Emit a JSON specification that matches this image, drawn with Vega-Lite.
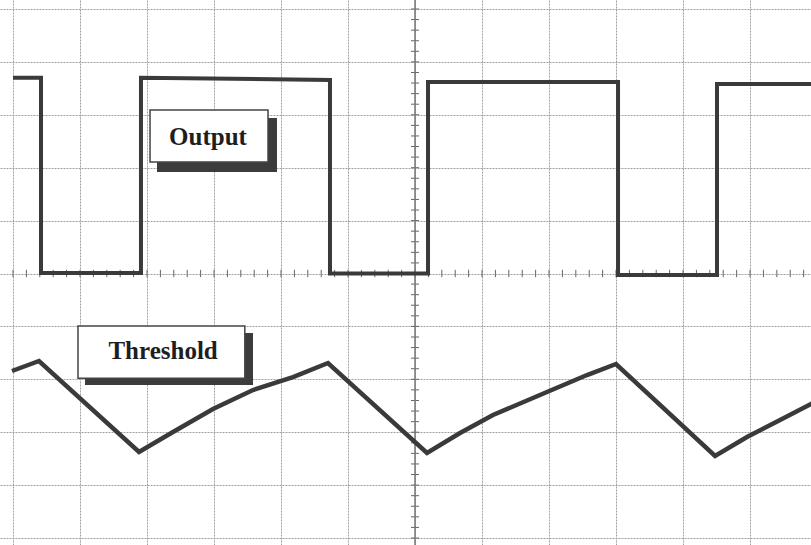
{
  "$schema": "https://vega.github.io/schema/vega-lite/v6.json",
  "width": 811,
  "height": 545,
  "autosize": {"type": "fit", "contains": "padding"},
  "padding": 0,
  "background": "white",
  "config": {
    "view": {"stroke": null},
    "axis": {"minExtent": 0, "maxExtent": 0, "labels": false, "ticks": false, "domain": false, "grid": true, "gridColor": "#a0a0a0", "gridDash": [2, 1], "gridWidth": 1, "gridOpacity": 1}
  },
  "datasets": {
    "output": [
      {"i": 0, "x": 0, "y": 8.70}, {"i": 1, "x": 0.418, "y": 8.70}, {"i": 2, "x": 0.418, "y": 5.01},
      {"i": 3, "x": 1.91, "y": 5.01}, {"i": 4, "x": 1.91, "y": 8.70}, {"i": 5, "x": 4.731, "y": 8.66},
      {"i": 6, "x": 4.731, "y": 5.0}, {"i": 7, "x": 6.194, "y": 5.0}, {"i": 8, "x": 6.194, "y": 8.62},
      {"i": 9, "x": 9.03, "y": 8.62}, {"i": 10, "x": 9.03, "y": 4.97}, {"i": 11, "x": 10.507, "y": 4.97},
      {"i": 12, "x": 10.507, "y": 8.58}, {"i": 13, "x": 11.95, "y": 8.58}
    ],
    "threshold": [
      {"i": 0, "x": -0.015, "y": 3.157}, {"i": 1, "x": 0.388, "y": 3.346},
      {"i": 4, "x": 1.881, "y": 1.626}, {"i": 5, "x": 2.388, "y": 2.004},
      {"i": 6, "x": 2.985, "y": 2.439}, {"i": 7, "x": 3.582, "y": 2.798}, {"i": 8, "x": 4.179, "y": 3.043},
      {"i": 9, "x": 4.701, "y": 3.308},
      {"i": 12, "x": 6.179, "y": 1.607}, {"i": 13, "x": 6.672, "y": 1.985}, {"i": 14, "x": 7.164, "y": 2.325},
      {"i": 15, "x": 7.97, "y": 2.76}, {"i": 16, "x": 8.567, "y": 3.081}, {"i": 17, "x": 9.0, "y": 3.289},
      {"i": 20, "x": 10.478, "y": 1.55},
      {"i": 21, "x": 10.955, "y": 1.909}, {"i": 22, "x": 11.448, "y": 2.231}, {"i": 23, "x": 11.95, "y": 2.56}
    ],
    "labels": [
      {"label": "Output", "bx": 2.045, "bx2": 3.806, "by": 8.09, "by2": 7.11, "sx": 2.149, "sx2": 3.94, "sy": 7.94, "sy2": 6.92, "tx": 2.91, "ty": 7.58},
      {"label": "Threshold", "bx": 0.97, "bx2": 3.46, "by": 4.01, "by2": 3.02, "sx": 1.075, "sx2": 3.582, "sy": 3.875, "sy2": 2.892, "tx": 2.24, "ty": 3.54}
    ],
    "xminor": [0, 0.2, 0.4, 0.6, 0.8, 1, 1.2, 1.4, 1.6, 1.8, 2, 2.2, 2.4, 2.6, 2.8, 3, 3.2, 3.4, 3.6, 3.8, 4, 4.2, 4.4, 4.6, 4.8, 5, 5.2, 5.4, 5.6, 5.8, 6, 6.2, 6.4, 6.6, 6.8, 7, 7.2, 7.4, 7.6, 7.8, 8, 8.2, 8.4, 8.6, 8.8, 9, 9.2, 9.4, 9.6, 9.8, 10, 10.2, 10.4, 10.6, 10.8, 11, 11.2, 11.4, 11.6, 11.8],
    "yminor": [0, 0.2, 0.4, 0.6, 0.8, 1, 1.2, 1.4, 1.6, 1.8, 2, 2.2, 2.4, 2.6, 2.8, 3, 3.2, 3.4, 3.6, 3.8, 4, 4.2, 4.4, 4.6, 4.8, 5, 5.2, 5.4, 5.6, 5.8, 6, 6.2, 6.4, 6.6, 6.8, 7, 7.2, 7.4, 7.6, 7.8, 8, 8.2, 8.4, 8.6, 8.8, 9, 9.2, 9.4, 9.6, 9.8, 10]
  },
  "layer": [
    {
      "data": {"name": "xminor"},
      "mark": {"type": "rule", "color": "#666", "strokeWidth": 1, "clip": true},
      "encoding": {
        "x": {"field": "data", "type": "quantitative", "title": null,
              "scale": {"domain": [-0.194, 11.91], "nice": false, "zero": false},
              "axis": {"values": [0, 1, 2, 3, 4, 5, 6, 7, 8, 9, 10, 11]}},
        "y": {"datum": 4.93, "type": "quantitative", "title": null,
              "scale": {"domain": [-0.132, 10.17], "nice": false, "zero": false},
              "axis": {"values": [0, 1, 2, 3, 4, 5, 6, 7, 8, 9, 10]}},
        "y2": {"datum": 5.07}
      }
    },
    {
      "data": {"name": "yminor"},
      "mark": {"type": "rule", "color": "#666", "strokeWidth": 1, "clip": true},
      "encoding": {
        "y": {"field": "data", "type": "quantitative", "title": null},
        "x": {"datum": 5.94, "type": "quantitative", "title": null},
        "x2": {"datum": 6.06}
      }
    },
    {
      "data": {"values": [{"c": 6}]},
      "mark": {"type": "rule", "color": "#777", "strokeWidth": 1.5, "clip": true},
      "encoding": {
        "x": {"field": "c", "type": "quantitative", "title": null}
      }
    },
    {
      "data": {"name": "output"},
      "mark": {"type": "line", "color": "#3a3a3a", "strokeWidth": 4, "strokeJoin": "miter", "clip": true},
      "encoding": {
        "x": {"field": "x", "type": "quantitative", "title": null},
        "y": {"field": "y", "type": "quantitative", "title": null},
        "order": {"field": "i"}
      }
    },
    {
      "data": {"name": "threshold"},
      "mark": {"type": "line", "color": "#3a3a3a", "strokeWidth": 4.5, "strokeJoin": "miter", "clip": true},
      "encoding": {
        "x": {"field": "x", "type": "quantitative", "title": null},
        "y": {"field": "y", "type": "quantitative", "title": null},
        "order": {"field": "i"}
      }
    },
    {
      "data": {"name": "labels"},
      "mark": {"type": "rect", "color": "#3c3c3c"},
      "encoding": {
        "x": {"field": "sx", "type": "quantitative", "title": null},
        "x2": {"field": "sx2"},
        "y": {"field": "sy", "type": "quantitative", "title": null},
        "y2": {"field": "sy2"}
      }
    },
    {
      "data": {"name": "labels"},
      "mark": {"type": "rect", "fill": "white", "stroke": "#444", "strokeWidth": 1.5},
      "encoding": {
        "x": {"field": "bx", "type": "quantitative", "title": null},
        "x2": {"field": "bx2"},
        "y": {"field": "by", "type": "quantitative", "title": null},
        "y2": {"field": "by2"}
      }
    },
    {
      "data": {"name": "labels"},
      "mark": {"type": "text", "font": "Liberation Serif", "fontWeight": "bold", "fontSize": 25, "color": "#1e1e1e", "align": "center", "baseline": "middle"},
      "encoding": {
        "x": {"field": "tx", "type": "quantitative", "title": null},
        "y": {"field": "ty", "type": "quantitative", "title": null},
        "text": {"field": "label"}
      }
    }
  ]
}
